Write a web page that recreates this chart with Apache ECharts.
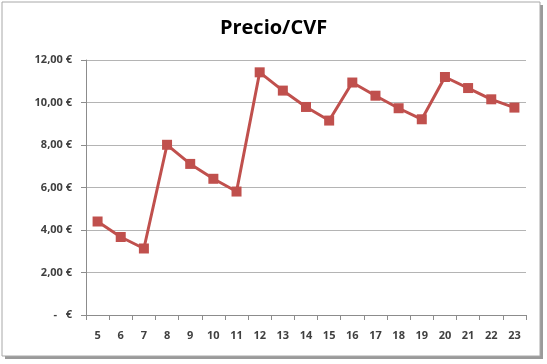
<!DOCTYPE html>
<html><head><meta charset="utf-8">
<script src="https://cdn.jsdelivr.net/npm/echarts@6/dist/echarts.min.js"></script>
<style>html,body{margin:0;padding:0;background:#fff}#c{width:547px;height:364px}</style>
</head><body><div id="c"></div>
<script>
const categories = ['5','6','7','8','9','10','11','12','13','14','15','16','17','18','19','20','21','22','23'];
const values = [4.40,3.67,3.13,8.01,7.11,6.41,5.81,11.42,10.56,9.79,9.15,10.94,10.32,9.73,9.21,11.20,10.68,10.15,9.76];
const titleText = 'Precio/CVF';
const yTicks = [0,2,4,6,8,10,12];

const chart = echarts.init(document.getElementById('c'));
function fmt(v){ if (v===0) return '-   €'; return v.toFixed(2).replace('.',',')+' €'; }
chart.setOption({
  animation:false,
  backgroundColor:'#fff',
  graphic:[
    {type:'rect',shape:{x:5,y:5,width:538,height:354},style:{fill:'#9a9a9a'},z:-10},
    {type:'rect',shape:{x:2,y:2,width:538,height:354},style:{fill:'#fff',stroke:'#a8a8a8',lineWidth:1},z:-9}
  ],
  title:{text:titleText,left:'center',top:13,textStyle:{fontFamily:'Open Sans',fontWeight:'bold',fontSize:20,color:'#000'}},
  grid:{left:86,right:21,top:60,bottom:49},
  xAxis:{type:'category',data:categories,boundaryGap:true,
    axisLine:{lineStyle:{color:'#8c8c8c',width:1}},
    axisTick:{show:true,length:5,alignWithLabel:false,lineStyle:{color:'#8c8c8c'}},
    axisLabel:{margin:15,fontFamily:'Open Sans',fontSize:11,fontWeight:'bold',color:'#404040',interval:0}},
  yAxis:{type:'value',min:yTicks[0],max:yTicks[yTicks.length-1],interval:2,
    axisLine:{show:true,lineStyle:{color:'#8c8c8c'}},
    axisTick:{show:true,length:5,lineStyle:{color:'#8c8c8c'}},
    splitLine:{lineStyle:{color:'#b4b4b4',width:1}},
    axisLabel:{margin:14,fontFamily:'Open Sans',fontSize:11,fontWeight:'bold',color:'#404040',formatter:fmt}},
  series:[{type:'line',data:values,symbol:'rect',symbolSize:10,
    lineStyle:{color:'#C0504D',width:3},itemStyle:{color:'#C0504D'}}]
});
</script></body></html>
